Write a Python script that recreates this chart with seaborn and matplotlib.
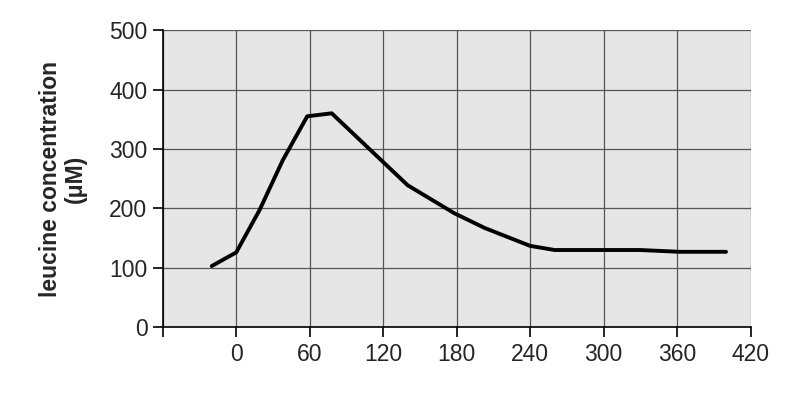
import matplotlib
matplotlib.use("Agg")
import matplotlib.pyplot as plt
import seaborn as sns
import pandas as pd

time_min = [-20, 0, 19, 38, 58, 78, 140, 178, 203, 240, 260, 330, 362, 400]
leucine = [103, 126, 197, 281, 355, 360, 239, 192, 167, 137, 130, 130, 127, 127]
xticks = [0, 60, 120, 180, 240, 300, 360, 420]
yticks = [0, 100, 200, 300, 400, 500]

sns.set_style("white")
plt.rcParams['font.family'] = ['Liberation Sans', 'DejaVu Sans']
fig, ax = plt.subplots(figsize=(7.9, 4.18), dpi=100)
fig.subplots_adjust(left=0.206, right=0.95, top=0.928, bottom=0.217)
df = pd.DataFrame({"t": time_min, "leu": leucine})
sns.lineplot(data=df, x="t", y="leu", ax=ax, color="black", lw=2.8)
ax.set_facecolor("#e6e6e6")
ax.set_xlim(-60, 420)
ax.set_ylim(0, 500)
ax.set_xticks([-60] + xticks)
ax.set_xticklabels([""] + [str(v) for v in xticks], fontsize=16.5)
ax.set_yticks(yticks)
ax.set_yticklabels([str(v) for v in yticks], fontsize=16.5)
ax.grid(True, color="#555555", lw=0.9)
for s in ["top", "right"]:
    ax.spines[s].set_visible(False)
for s in ["left", "bottom"]:
    ax.spines[s].set_color("black")
    ax.spines[s].set_linewidth(1.2)
ax.tick_params(axis="both", direction="out", length=7, width=1.2, color="black", pad=4, bottom=True, left=True)
ax.set_xlabel("")
ax.set_ylabel("leucine concentration\n(μM)", fontsize=16.5, fontweight="bold", labelpad=16, linespacing=1.1)
fig.savefig("out.png", dpi=100)
